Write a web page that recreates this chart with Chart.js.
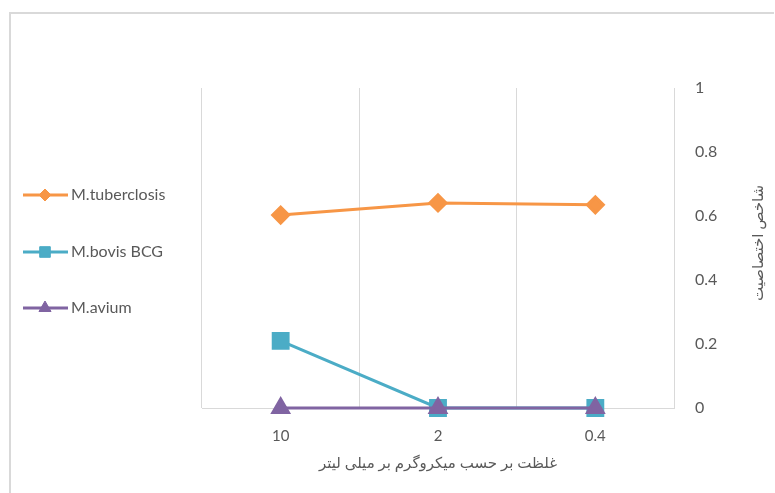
<!DOCTYPE html>
<html>
<head>
<meta charset="utf-8">
<script src="https://cdn.jsdelivr.net/npm/chart.js@4.4.1/dist/chart.umd.min.js"></script>
<style>
  html, body { margin: 0; padding: 0; background: #fff; }
  #wrap { position: relative; width: 775px; height: 493px; }
</style>
</head>
<body>
<div id="wrap"><canvas id="chart" width="775" height="493"></canvas></div>
<script>
// data
const concentrations = ["10", "2", "0.4"];
const tuberculosis = [0.603, 0.641, 0.635];
const bovisBCG = [0.21, 0, 0];
const avium = [0, 0, 0];
const yTicks = [0, 0.2, 0.4, 0.6, 0.8, 1];

const xTitle = "غلظت بر حسب میکروگرم بر میلی لیتر";
const yTitle = "شاخص اختصاصیت";

const FONT = "Lato, 'DejaVu Sans', sans-serif";
const TEXT = "#595959";
const GRID = "#d9d9d9";

// thin frame around the chart (left and top edges only)
const framePlugin = {
    id: "framePlugin",
    beforeDraw(chart) {
        const { ctx } = chart;
        ctx.save();
        ctx.fillStyle = GRID;
        ctx.fillRect(9, 12, 2, chart.height - 12);
        ctx.fillRect(9, 12, chart.width - 10, 2);
        ctx.restore();
    }
};

// y title, reading top to bottom
const yTitlePlugin = {
    id: "yTitlePlugin",
    afterDraw(chart) {
        const { ctx, chartArea } = chart;
        ctx.save();
        ctx.translate(758, (chartArea.top + chartArea.bottom) / 2 - 5);
        ctx.rotate(-Math.PI / 2);
        ctx.font = "15px " + FONT;
        ctx.fillStyle = TEXT;
        ctx.textAlign = "center";
        ctx.textBaseline = "middle";
        ctx.fillText(yTitle, 0, 0);
        ctx.restore();
    }
};

// legend on the left, drawn from the datasets
const sideLegend = {
    id: "sideLegend",
    afterDraw(chart) {
        const { ctx } = chart;
        const rows = [195, 252, 308];
        ctx.save();
        chart.data.datasets.forEach((ds, i) => {
            const y = rows[i];
            ctx.strokeStyle = ds.borderColor;
            ctx.fillStyle = ds.borderColor;
            ctx.lineWidth = 3;
            ctx.beginPath();
            ctx.moveTo(23, y);
            ctx.lineTo(68, y);
            ctx.stroke();
            const r = { rectRot: 6, rect: 7.5, triangle: 7 }[ds.pointStyle] || 6;
            ctx.lineWidth = 1;
            Chart.helpers.drawPoint(ctx, {
                pointStyle: ds.pointStyle,
                radius: r,
                rotation: 0,
                borderWidth: 1
            }, 45, y);
            ctx.font = "16px " + FONT;
            ctx.fillStyle = TEXT;
            ctx.textBaseline = "middle";
            ctx.textAlign = "left";
            ctx.fillText(ds.label, 71, y);
        });
        ctx.restore();
    }
};

const canvas = document.getElementById("chart");
new Chart(canvas, {
    type: "line",
    data: {
        labels: concentrations,
        datasets: [
            {
                label: "M.tuberclosis",
                data: tuberculosis,
                borderColor: "#F79646",
                backgroundColor: "#F79646",
                borderWidth: 3,
                pointStyle: "rectRot",
                pointRadius: 8,
                order: 3
            },
            {
                label: "M.bovis BCG",
                data: bovisBCG,
                borderColor: "#4BACC6",
                backgroundColor: "#4BACC6",
                borderWidth: 3,
                pointStyle: "rect",
                pointRadius: 10.5,
                order: 2
            },
            {
                label: "M.avium",
                data: avium,
                borderColor: "#8064A2",
                backgroundColor: "#8064A2",
                borderWidth: 3,
                pointStyle: "triangle",
                pointRadius: 9,
                order: 1
            }
        ]
    },
    options: {
        responsive: false,
        animation: false,
        clip: false,
        layout: { padding: { left: 202, top: 88, right: 0, bottom: 0 } },
        plugins: {
            legend: { display: false },
            tooltip: { enabled: false }
        },
        elements: {
            line: { tension: 0 },
            point: { borderWidth: 1, hoverRadius: 0 }
        },
        scales: {
            x: {
                type: "category",
                offset: true,
                grid: { offset: true, color: GRID, lineWidth: 1, drawTicks: false },
                border: { display: true, color: GRID, width: 1 },
                ticks: { color: TEXT, font: { family: FONT, size: 15 }, padding: 19, maxRotation: 0 },
                title: {
                    display: true,
                    text: xTitle,
                    color: TEXT,
                    font: { family: FONT, size: 15 },
                    padding: { top: 0, bottom: 21 }
                },
                afterFit(scale) { scale.height = 85; }
            },
            y: {
                position: "right",
                min: 0,
                max: 1,
                afterBuildTicks(scale) { scale.ticks = yTicks.map(v => ({ value: v })); },
                grid: { display: false, drawTicks: false },
                border: { display: true, color: GRID, width: 1 },
                ticks: {
                    color: TEXT,
                    font: { family: FONT, size: 16 },
                    padding: 21,
                    callback: v => String(v)
                },
                afterFit(scale) { scale.width = 101; }
            }
        }
    },
    plugins: [framePlugin, yTitlePlugin, sideLegend]
});
</script>
</body>
</html>
